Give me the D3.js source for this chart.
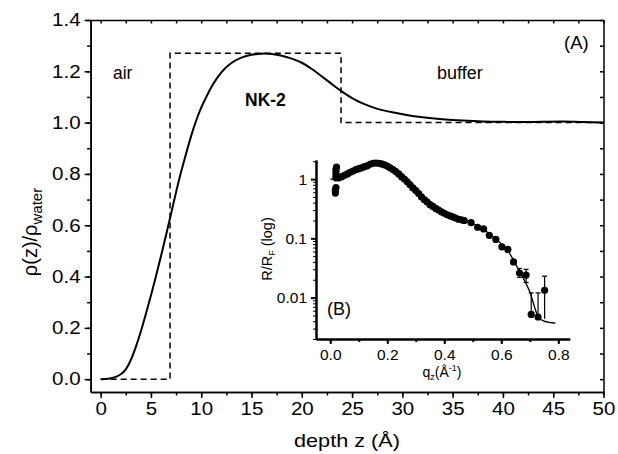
<!DOCTYPE html>
<html>
<head>
<meta charset="utf-8">
<script src="https://cdn.jsdelivr.net/npm/d3@7"></script>
<style>
  body { margin: 0; background: #fff; }
  text { font-family: "Liberation Sans", Arial, sans-serif; fill: #000; }
  .domain { stroke: #000; }
  .tick line { stroke: #000; }
</style>
</head>
<body>
<div id="chart"></div>
<script>
// main profile: depth z (Å) vs rho(z)/rho_water
var zVals   = [0, 0.5, 1, 1.5, 2, 2.5, 3, 3.5, 4, 4.5, 5, 5.5, 6, 6.5, 7, 7.5, 8, 8.5, 9, 9.5, 10, 10.5, 11, 12, 13, 14, 15, 16, 17, 18, 19, 20, 21, 22, 23, 24, 25, 26, 27, 28, 29, 30, 32, 34, 36, 38, 40, 42, 44, 46, 48, 50];
var rhoVals = [0, 0.0005, 0.003, 0.008, 0.018, 0.035, 0.072, 0.125, 0.185, 0.255, 0.325, 0.40, 0.48, 0.56, 0.645, 0.73, 0.81, 0.88, 0.95, 1.01, 1.06, 1.10, 1.14, 1.20, 1.235, 1.255, 1.265, 1.27, 1.268, 1.262, 1.25, 1.235, 1.21, 1.18, 1.15, 1.12, 1.095, 1.075, 1.06, 1.048, 1.04, 1.033, 1.02, 1.013, 1.008, 1.004, 1.003, 1.002, 1.003, 1.005, 1.002, 1.0];

// box model (dashed)
var stepZ   = [0, 6.9, 6.9, 23.9, 23.9, 50];
var stepRho = [0, 0, 1.27, 1.27, 1.0, 1.0];

// inset: reflectivity data R/RF vs qz
var qVals = [0.018, 0.018, 0.02, 0.02, 0.02, 0.02, 0.02, 0.022, 0.03, 0.04, 0.05, 0.06, 0.07, 0.08, 0.09, 0.10, 0.11, 0.12, 0.13, 0.14, 0.15, 0.16, 0.17, 0.18, 0.19, 0.20, 0.21, 0.22, 0.23, 0.24, 0.25, 0.26, 0.27, 0.28, 0.29, 0.30, 0.31, 0.32, 0.33, 0.34, 0.35, 0.36, 0.37, 0.38, 0.39, 0.40, 0.41, 0.42, 0.43, 0.44, 0.45, 0.46, 0.47, 0.494, 0.517, 0.538, 0.558, 0.581, 0.602, 0.623, 0.643, 0.664, 0.687, 0.705, 0.729, 0.752];
var rVals = [0.58, 0.65, 0.72, 1.05, 1.15, 1.3, 1.45, 1.6, 1.05, 1.1, 1.16, 1.22, 1.3, 1.37, 1.44, 1.5, 1.55, 1.62, 1.68, 1.78, 1.85, 1.87, 1.85, 1.8, 1.74, 1.66, 1.55, 1.45, 1.34, 1.22, 1.1, 1.0, 0.9, 0.8, 0.71, 0.64, 0.57, 0.5, 0.45, 0.41, 0.37, 0.345, 0.32, 0.30, 0.28, 0.265, 0.25, 0.24, 0.23, 0.22, 0.21, 0.205, 0.2, 0.184, 0.154, 0.144, 0.112, 0.096, 0.072, 0.065, 0.040, 0.026, 0.024, 0.0052, 0.0047, 0.0133];
// error bars (only the last points)
var errQ  = [0.664, 0.687, 0.705, 0.729, 0.752];
var errLo = [0.022, 0.018, null, null, 0.0044];
var errHi = [0.031, 0.030, 0.012, 0.012, 0.023];

// inset fit line
var fitQ = [0, 0.02, 0.04, 0.08, 0.12, 0.16, 0.19, 0.22, 0.26, 0.30, 0.34, 0.38, 0.42, 0.46, 0.50, 0.54, 0.58, 0.62, 0.66, 0.70, 0.73, 0.75, 0.79];
var fitR = [1.0, 1.0, 1.12, 1.38, 1.6, 1.85, 1.76, 1.47, 1.0, 0.64, 0.41, 0.30, 0.24, 0.205, 0.178, 0.14, 0.097, 0.065, 0.03, 0.0125, 0.0047, 0.0040, 0.0037];

// tick labels
var mainXTicks = [0, 5, 10, 15, 20, 25, 30, 35, 40, 45, 50];
var mainYTicks = [0, 0.2, 0.4, 0.6, 0.8, 1.0, 1.2, 1.4];
var insetXTicks = [0, 0.2, 0.4, 0.6, 0.8];
var insetYTicks = [0.01, 0.1, 1];

/*********************** Plot Below *********************/
var W = 618, H = 454;
var svg = d3.select("#chart").append("svg")
    .attr("width", W)
    .attr("height", H);

var x = d3.scaleLinear().domain([-1, 50]).range([90.6, 603.5]);
var y = d3.scaleLinear().domain([-0.05, 1.4]).range([392, 20]);

var mainXMinor = d3.range(-0, 50.1, 2.5);
var mainYMinor = d3.range(0, 1.41, 0.1);

function styleAxis(g, w) {
    g.select(".domain").attr("stroke-width", w);
    g.selectAll(".tick line").attr("stroke-width", w);
}

// minor ticks first, then majors with labels
var bx = svg.append("g").attr("transform", "translate(0,392)");
bx.append("g").call(d3.axisBottom(x).tickValues(mainXMinor).tickSize(3.5).tickFormat("").tickSizeOuter(0)).call(styleAxis, 1.5);
bx.append("g").attr("class", "lbl").call(d3.axisBottom(x).tickValues(mainXTicks).tickSize(6).tickPadding(4).tickSizeOuter(0)).call(styleAxis, 1.5);
bx.selectAll(".lbl text").attr("font-size", 18).attr("class", "stretch");

var ly = svg.append("g").attr("transform", "translate(90.6,0)");
ly.append("g").call(d3.axisLeft(y).tickValues(mainYMinor).tickSize(3.5).tickFormat("").tickSizeOuter(0)).call(styleAxis, 1.5);
ly.append("g").attr("class", "lbl").call(d3.axisLeft(y).tickValues(mainYTicks).tickSize(6).tickPadding(4).tickFormat(d3.format(".1f")).tickSizeOuter(0)).call(styleAxis, 1.5);
ly.selectAll(".lbl text").attr("font-size", 18).attr("class", "stretch");

// mirror axes with inward ticks
var tx = svg.append("g").attr("transform", "translate(0,20)");
tx.append("g").call(d3.axisTop(x).tickValues(mainXMinor).tickSize(-3.5).tickFormat("").tickSizeOuter(0)).call(styleAxis, 1.5);
var ry = svg.append("g").attr("transform", "translate(603.5,0)");
ry.append("g").call(d3.axisRight(y).tickValues(mainYMinor).tickSize(-3.5).tickFormat("").tickSizeOuter(0)).call(styleAxis, 1.5);

// box model
var line = d3.line()
    .x(function (d) { return x(d[0]); })
    .y(function (d) { return y(d[1]); });

svg.append("path")
    .datum(d3.zip(stepZ, stepRho))
    .attr("d", line)
    .style("fill", "none")
    .style("stroke", "#000")
    .style("stroke-width", "1.5px")
    .style("stroke-dasharray", "6,4");

// profile
svg.append("path")
    .datum(d3.zip(zVals, rhoVals))
    .attr("d", line.curve(d3.curveBasis))
    .style("fill", "none")
    .style("stroke", "#000")
    .style("stroke-width", "2px");

// labels on main panel
svg.append("text").attr("x", 113).attr("y", 79).attr("font-size", 17.5).text("air");
svg.append("text").attr("x", 245).attr("y", 106).attr("font-size", 17.5).attr("font-weight", "bold").text("NK-2");
svg.append("text").attr("x", 437).attr("y", 79).attr("font-size", 18).text("buffer");
svg.append("text").attr("x", 564).attr("y", 49).attr("font-size", 18.5).text("(A)");

svg.append("text")
    .attr("class", "stretch")
    .attr("x", 347).attr("y", 447)
    .attr("text-anchor", "middle")
    .attr("font-size", 19)
    .text("depth z (Å)");

var yl = svg.append("text")
    .attr("transform", "translate(37,232) rotate(-90)")
    .attr("text-anchor", "middle")
    .attr("font-size", 20);
yl.append("tspan").text("ρ(z)/ρ");
yl.append("tspan").attr("font-size", 15).attr("dy", 5).text("water");

/****************** Inset Below **************************/
var xi = d3.scaleLinear().domain([-0.05, 0.84]).range([316, 569.7]);
var yi = d3.scaleLog().domain([0.002, 2.1]).range([339, 160]);

var ib = svg.append("g").attr("transform", "translate(0,339)");
ib.append("g").call(d3.axisBottom(xi).tickValues(d3.range(0, 0.81, 0.1)).tickSize(3).tickFormat("").tickSizeOuter(0)).call(styleAxis, 2);
ib.append("g").attr("class", "lbl").call(d3.axisBottom(xi).tickValues(insetXTicks).tickSize(5).tickPadding(5).tickFormat(d3.format(".1f")).tickSizeOuter(0)).call(styleAxis, 2);
ib.selectAll(".lbl text").attr("font-size", 15.5);

var minorLog = [];
[0.001, 0.01, 0.1, 1].forEach(function (dec) {
    d3.range(2, 10).forEach(function (m) {
        var v = dec * m;
        if (v >= 0.002 && v <= 2.1) minorLog.push(v);
    });
});
var il = svg.append("g").attr("transform", "translate(316,0)");
il.append("g").call(d3.axisLeft(yi).tickValues(minorLog).tickSize(3).tickFormat("").tickSizeOuter(0)).call(styleAxis, 2);
il.selectAll(".tick line").attr("stroke-width", 1);
il.append("g").attr("class", "lbl").call(d3.axisLeft(yi).tickValues(insetYTicks).tickSize(5).tickPadding(4).tickFormat(d3.format("~g")).tickSizeOuter(0)).call(styleAxis, 2);
il.selectAll(".lbl text").attr("font-size", 15.5);

var lineI = d3.line()
    .x(function (d) { return xi(d[0]); })
    .y(function (d) { return yi(d[1]); })
    .curve(d3.curveMonotoneX);

svg.append("path")
    .datum(d3.zip(fitQ, fitR))
    .attr("d", lineI)
    .style("fill", "none")
    .style("stroke", "#000")
    .style("stroke-width", "1.3px");

// error bars
var eb = svg.append("g").attr("stroke", "#000").attr("stroke-width", 1.2);
errQ.forEach(function (q, i) {
    var j = qVals.indexOf(q);
    var lo = errLo[i] == null ? rVals[j] : errLo[i];
    eb.append("line").attr("x1", xi(q)).attr("x2", xi(q)).attr("y1", yi(errHi[i])).attr("y2", yi(lo));
    eb.append("line").attr("x1", xi(q) - 2.5).attr("x2", xi(q) + 2.5).attr("y1", yi(errHi[i])).attr("y2", yi(errHi[i]));
    if (errLo[i] != null && i < 2) {
        eb.append("line").attr("x1", xi(q) - 2.5).attr("x2", xi(q) + 2.5).attr("y1", yi(lo)).attr("y2", yi(lo));
    }
});

svg.append("g").selectAll("circle")
    .data(d3.zip(qVals, rVals))
    .enter().append("circle")
    .attr("cx", function (d) { return xi(d[0]); })
    .attr("cy", function (d) { return yi(d[1]); })
    .attr("r", 3.6)
    .attr("fill", "#000");

svg.append("text").attr("x", 327).attr("y", 315).attr("font-size", 18).text("(B)");

var qt = svg.append("text")
    .attr("x", 442).attr("y", 377)
    .attr("text-anchor", "middle")
    .attr("font-size", 14);
qt.append("tspan").text("q");
qt.append("tspan").attr("font-size", 9).attr("dy", 3).text("z");
qt.append("tspan").attr("dy", -3).text("(Å");
qt.append("tspan").attr("font-size", 9).attr("dy", -6).text("-1");
qt.append("tspan").attr("dy", 6).text(")");

var rt = svg.append("text")
    .attr("transform", "translate(272,249) rotate(-90)")
    .attr("text-anchor", "middle")
    .attr("font-size", 14.5);
rt.append("tspan").text("R/R");
rt.append("tspan").attr("font-size", 9).attr("dy", 3).text("F");
rt.append("tspan").attr("dy", -3).text(" (log)");

// main tick labels / title are drawn wider in the original
svg.selectAll("text.stretch").each(function () {
    var len = this.getComputedTextLength();
    d3.select(this).attr("textLength", len * 1.14).attr("lengthAdjust", "spacingAndGlyphs");
});
</script>
</body>
</html>
